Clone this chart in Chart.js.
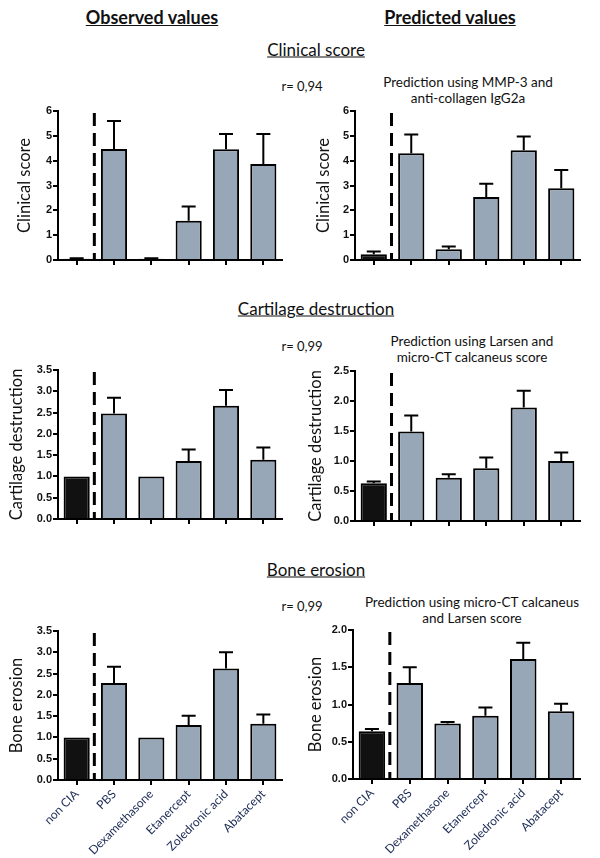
<!DOCTYPE html>
<html>
<head>
<meta charset="utf-8">
<script src="https://cdn.jsdelivr.net/npm/chart.js@4.4.1/dist/chart.umd.min.js"></script>
<style>
body { margin: 0; background: #fff; }
#page { position: relative; width: 600px; height: 858px; overflow: hidden; font-family: Lato, 'Open Sans', sans-serif; color: #111; }
.lbl { position: absolute; transform: translate(-50%, -50%); white-space: nowrap; }
.head { font-weight: bold; font-size: 18px; text-decoration: underline; }
.sect { font-size: 17px; text-decoration: underline; }
.r { font-size: 13px; }
.pred { font-size: 13.5px; text-align: center; line-height: 16px; }
canvas { position: absolute; }
</style>
</head>
<body>
<div id="page">
  <div class="lbl head" style="left:152px;top:17px">Observed values</div>
  <div class="lbl head" style="left:450px;top:17px">Predicted values</div>

  <div class="lbl sect" style="left:316px;top:49px">Clinical score</div>
  <div class="lbl r" style="left:302px;top:86px">r= 0,94</div>
  <div class="lbl pred" style="left:468px;top:90px">Prediction using MMP-3 and<br>anti-collagen IgG2a</div>

  <div class="lbl sect" style="left:316px;top:308px">Cartilage destruction</div>
  <div class="lbl r" style="left:302px;top:346px">r= 0,99</div>
  <div class="lbl pred" style="left:472px;top:349px">Prediction using Larsen and<br>micro-CT calcaneus score</div>

  <div class="lbl sect" style="left:316px;top:569px">Bone erosion</div>
  <div class="lbl r" style="left:302px;top:606px">r= 0,99</div>
  <div class="lbl pred" style="left:472px;top:610px">Prediction using micro-CT calcaneus<br>and Larsen score</div>

  <canvas id="clinObs" width="300" height="170" style="left:0;top:100px"></canvas>
  <canvas id="clinPred" width="300" height="170" style="left:300px;top:100px"></canvas>
  <canvas id="cartObs" width="300" height="170" style="left:0;top:360px"></canvas>
  <canvas id="cartPred" width="300" height="170" style="left:300px;top:360px"></canvas>
  <canvas id="boneObs" width="300" height="238" style="left:0;top:620px"></canvas>
  <canvas id="bonePred" width="300" height="238" style="left:300px;top:620px"></canvas>
</div>
<script>
// ---- data (mean, SEM) ----
const categories = ['non CIA', 'PBS', 'Dexamethasone', 'Etanercept', 'Zoledronic acid', 'Abatacept'];

const clinicalObserved = [0.05, 4.47, 0.05, 1.58, 4.46, 3.87];
const clinicalObservedSem = [0.02, 1.13, 0.02, 0.57, 0.61, 1.20];
const clinicalPredicted = [0.23, 4.30, 0.43, 2.54, 4.42, 2.89];
const clinicalPredictedSem = [0.11, 0.75, 0.11, 0.53, 0.55, 0.73];

const cartilageObserved = [1.00, 2.48, 1.00, 1.36, 2.66, 1.39];
const cartilageObservedSem = [0, 0.37, 0, 0.27, 0.37, 0.29];
const cartilagePredicted = [0.63, 1.49, 0.72, 0.88, 1.89, 1.00];
const cartilagePredictedSem = [0.03, 0.27, 0.06, 0.18, 0.28, 0.14];

const boneObserved = [1.00, 2.28, 1.00, 1.29, 2.62, 1.32];
const boneObservedSem = [0, 0.38, 0, 0.22, 0.38, 0.22];
const bonePredicted = [0.64, 1.29, 0.745, 0.85, 1.61, 0.91];
const bonePredictedSem = [0.03, 0.21, 0.02, 0.11, 0.22, 0.10];

const barFill = '#98a7b7';

// error bars (upper whisker only) + dashed separator after the control group
const errorBars = {
    id: 'errorBars',
    afterDatasetsDraw(chart) {
        const ctx = chart.ctx, y = chart.scales.y, x = chart.scales.x;
        const ds = chart.data.datasets[0];
        ctx.save();
        ctx.strokeStyle = '#000';
        ctx.lineWidth = 2;
        chart.getDatasetMeta(0).data.forEach((bar, i) => {
            if (!ds.sem[i]) return;
            const top = y.getPixelForValue(ds.data[i] + ds.sem[i]);
            ctx.beginPath();
            ctx.moveTo(bar.x, bar.y);
            ctx.lineTo(bar.x, top);
            ctx.moveTo(bar.x - 7, top);
            ctx.lineTo(bar.x + 7, top);
            ctx.stroke();
        });
        const dx = (x.getPixelForValue(0) + x.getPixelForValue(1)) / 2 - 1;
        ctx.setLineDash([13, 7]);
        ctx.lineWidth = 3;
        ctx.beginPath();
        ctx.moveTo(dx, chart.chartArea.top + 2);
        ctx.lineTo(dx, chart.chartArea.bottom);
        ctx.stroke();
        ctx.restore();
    }
};

function makeChart(id, values, sem, o) {
    return new Chart(document.getElementById(id), {
        type: 'bar',
        data: {
            labels: categories,
            datasets: [{
                data: values, sem: sem,
                backgroundColor: categories.map((c, i) => i === 0 ? '#111' : barFill),
                borderColor: '#000', borderWidth: 2, borderSkipped: 'start',
                barPercentage: 0.7, categoryPercentage: 1.0
            }]
        },
        options: {
            responsive: false,
            animation: false,
            layout: { padding: { top: o.padTop, right: o.padRight, left: 0, bottom: 0 } },
            plugins: { legend: { display: false }, tooltip: { enabled: false } },
            scales: {
                x: {
                    offset: true,
                    grid: { display: true, drawOnChartArea: false, drawTicks: true, tickLength: 5, color: '#000', lineWidth: 2, offset: false },
                    border: { display: true, color: '#000', width: 2 },
                    ticks: { display: !!o.labels, autoSkip: false, maxRotation: 45, minRotation: 45, padding: 2, color: '#1b2a55', font: { family: 'Lato', size: 12 } },
                    afterFit(s) { s.height = o.xh; }
                },
                y: {
                    min: 0, max: o.max,
                    ticks: { stepSize: o.step, padding: 1, color: '#111', font: { family: 'Liberation Sans', size: 11, weight: 'bold' },
                             callback: v => v.toFixed(o.dec) },
                    grid: { drawOnChartArea: false, tickLength: 5, color: '#000', lineWidth: 2 },
                    border: { display: true, color: '#000', width: 2 },
                    title: { display: true, text: o.title, color: '#111', font: { family: 'Lato', size: 16.5, lineHeight: 1 }, padding: { top: o.tp, bottom: 0 } },
                    afterFit(s) { s.width = o.yw; }
                }
            }
        },
        plugins: [errorBars]
    });
}

makeChart('clinObs', clinicalObserved, clinicalObservedSem,
    { padTop: 11, padRight: 18, yw: 58, xh: 10, max: 6, step: 1, dec: 0, title: 'Clinical score', tp: 16.75 });
makeChart('clinPred', clinicalPredicted, clinicalPredictedSem,
    { padTop: 11, padRight: 20, yw: 55, xh: 10, max: 6, step: 1, dec: 0, title: 'Clinical score', tp: 15.75 });
makeChart('cartObs', cartilageObserved, cartilageObservedSem,
    { padTop: 10, padRight: 18, yw: 58, xh: 11, max: 3.5, step: 0.5, dec: 1, title: 'Cartilage destruction', tp: 8.75 });
makeChart('cartPred', cartilagePredicted, cartilagePredictedSem,
    { padTop: 11, padRight: 20, yw: 55, xh: 9, max: 2.5, step: 0.5, dec: 1, title: 'Cartilage destruction', tp: 7.75 });
makeChart('boneObs', boneObserved, boneObservedSem,
    { padTop: 11, padRight: 18, yw: 58, xh: 78, max: 3.5, step: 0.5, dec: 1, title: 'Bone erosion', tp: 8.75, labels: true });
makeChart('bonePred', bonePredicted, bonePredictedSem,
    { padTop: 10, padRight: 20, yw: 53, xh: 79, max: 2.0, step: 0.5, dec: 1, title: 'Bone erosion', tp: 7.75, labels: true });
</script>
</body>
</html>
